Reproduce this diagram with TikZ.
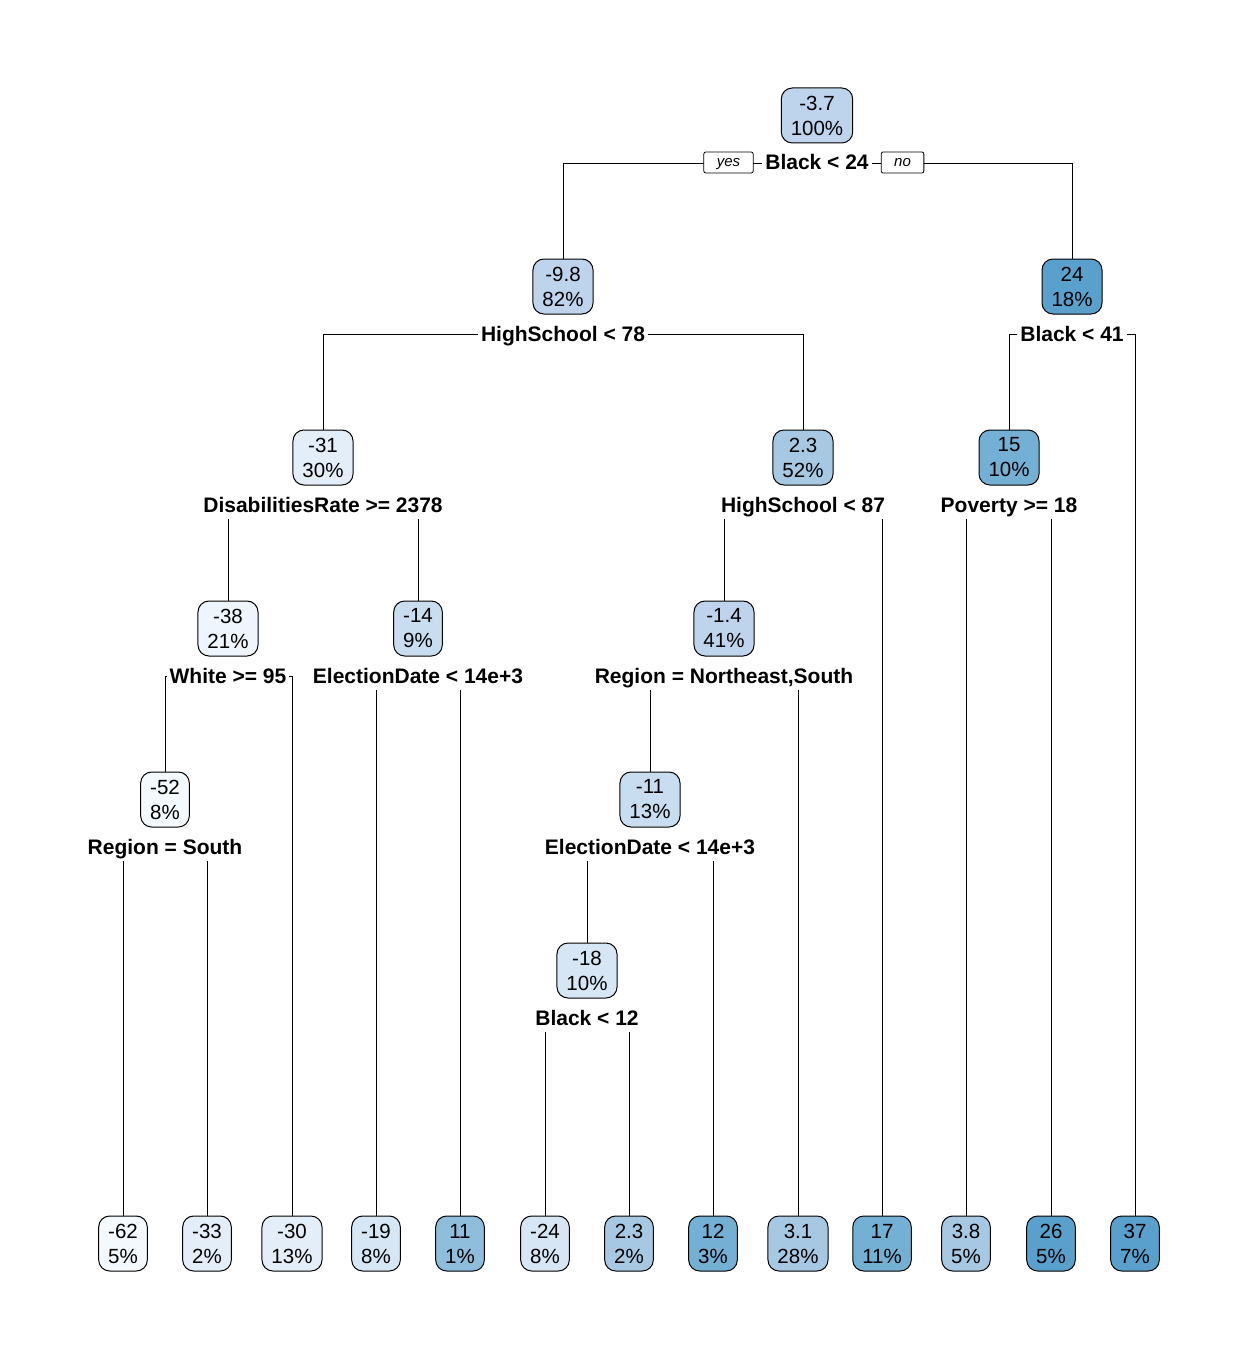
\documentclass[tikz,border=0pt]{standalone}
\usepackage{fontspec}
\setmainfont{Liberation Sans}
\usetikzlibrary{backgrounds}
\definecolor{cA}{HTML}{F4F9FE}
\definecolor{cB}{HTML}{EEF5FC}
\definecolor{cC}{HTML}{E4EEF9}
\definecolor{cD}{HTML}{D7E6F5}
\definecolor{cE}{HTML}{C9DDF0}
\definecolor{cF}{HTML}{BED4EC}
\definecolor{cG}{HTML}{A6C8E3}
\definecolor{cH}{HTML}{8EBEDB}
\definecolor{cI}{HTML}{74AFD4}
\definecolor{cJ}{HTML}{5AA0CD}
\begin{document}
\begin{tikzpicture}[x=1pt,y=-1pt,
  box/.style={draw=black, line width=1pt, rounded corners=11pt, align=center,
    inner xsep=9.5pt, inner ysep=0pt, minimum height=55pt,
    font=\fontsize{20.5}{25}\selectfont},
  split/.style={fill=white, inner xsep=3pt, inner ysep=2pt, text height=19pt,
    text depth=5pt, font=\fontsize{21}{25}\selectfont\bfseries},
  yn/.style={draw=black, fill=white, line width=0.8pt, rounded corners=2pt,
    inner xsep=13pt, inner ysep=0pt, minimum height=21pt, text height=8pt,
    text depth=0pt, font=\fontsize{15}{18}\selectfont\itshape},
  edge/.style={line width=0.9pt}]
\useasboundingbox (0,0) rectangle (1242,1356);

% internal nodes
\node[box, fill=cF] (root) at (817,115.5) {-3.7\\100\%};
\node[split] (s1) at (817,163) {Black < 24};
\node[yn] (yes) at (728.5,162.5) {yes};
\node[yn] (no) at (902.5,162.5) {no};

\node[box, fill=cF] (n2) at (563,286.5) {-9.8\\82\%};
\node[split] (s2) at (563,334) {HighSchool < 78};
\node[box, fill=cJ] (n3) at (1072,286.5) {24\\18\%};
\node[split] (s3) at (1072,334) {Black < 41};

\node[box, fill=cC] (n4) at (323,457.5) {-31\\30\%};
\node[split] (s4) at (323,505) {DisabilitiesRate >= 2378};
\node[box, fill=cG] (n5) at (803,457.5) {2.3\\52\%};
\node[split] (s5) at (803,505) {HighSchool < 87};
\node[box, fill=cI] (n7) at (1009,457.5) {15\\10\%};
\node[split] (s7) at (1009,505) {Poverty >= 18};

\node[box, fill=cB] (n8) at (228,628.5) {-38\\21\%};
\node[split] (s8) at (228,676) {White >= 95};
\node[box, fill=cE] (n9) at (418,628.5) {-14\\9\%};
\node[split] (s9) at (418,676) {ElectionDate < 14e+3};
\node[box, fill=cF] (n10) at (724,628.5) {-1.4\\41\%};
\node[split] (s10) at (724,676) {Region = Northeast,South};

\node[box, fill=cA] (n16) at (165,799.5) {-52\\8\%};
\node[split] (s16) at (165,847) {Region = South};
\node[box, fill=cE] (n20) at (650,799.5) {-11\\13\%};
\node[split] (s20) at (650,847) {ElectionDate < 14e+3};

\node[box, fill=cD] (n40) at (587,970.5) {-18\\10\%};
\node[split] (s40) at (587,1018) {Black < 12};

% leaves
\node[box, fill=cA] (l1) at (123,1243.5) {-62\\5\%};
\node[box, fill=cC] (l2) at (207,1243.5) {-33\\2\%};
\node[box, fill=cC] (l3) at (292,1243.5) {-30\\13\%};
\node[box, fill=cD] (l4) at (376,1243.5) {-19\\8\%};
\node[box, fill=cH] (l5) at (460,1243.5) {11\\1\%};
\node[box, fill=cD] (l6) at (545,1243.5) {-24\\8\%};
\node[box, fill=cG] (l7) at (629,1243.5) {2.3\\2\%};
\node[box, fill=cI] (l8) at (713,1243.5) {12\\3\%};
\node[box, fill=cG] (l9) at (798,1243.5) {3.1\\28\%};
\node[box, fill=cI] (l10) at (882,1243.5) {17\\11\%};
\node[box, fill=cG] (l11) at (966,1243.5) {3.8\\5\%};
\node[box, fill=cJ] (l12) at (1051,1243.5) {26\\5\%};
\node[box, fill=cJ] (l13) at (1135,1243.5) {37\\7\%};

\begin{pgfonlayer}{background}
\draw[edge] (s1.center) -| (n2.north);
\draw[edge] (s1.center) -| (n3.north);
\draw[edge] (s2.center) -| (n4.north);
\draw[edge] (s2.center) -| (n5.north);
\draw[edge] (s3.center) -| (n7.north);
\draw[edge] (s3.center) -| (l13.north);
\draw[edge] (s4.center) -| (n8.north);
\draw[edge] (s4.center) -| (n9.north);
\draw[edge] (s5.center) -| (n10.north);
\draw[edge] (s5.center) -| (l10.north);
\draw[edge] (s7.center) -| (l11.north);
\draw[edge] (s7.center) -| (l12.north);
\draw[edge] (s8.center) -| (n16.north);
\draw[edge] (s8.center) -| (l3.north);
\draw[edge] (s9.center) -| (l4.north);
\draw[edge] (s9.center) -| (l5.north);
\draw[edge] (s10.center) -| (n20.north);
\draw[edge] (s10.center) -| (l9.north);
\draw[edge] (s16.center) -| (l1.north);
\draw[edge] (s16.center) -| (l2.north);
\draw[edge] (s20.center) -| (n40.north);
\draw[edge] (s20.center) -| (l8.north);
\draw[edge] (s40.center) -| (l6.north);
\draw[edge] (s40.center) -| (l7.north);
\end{pgfonlayer}
\end{tikzpicture}
\end{document}
